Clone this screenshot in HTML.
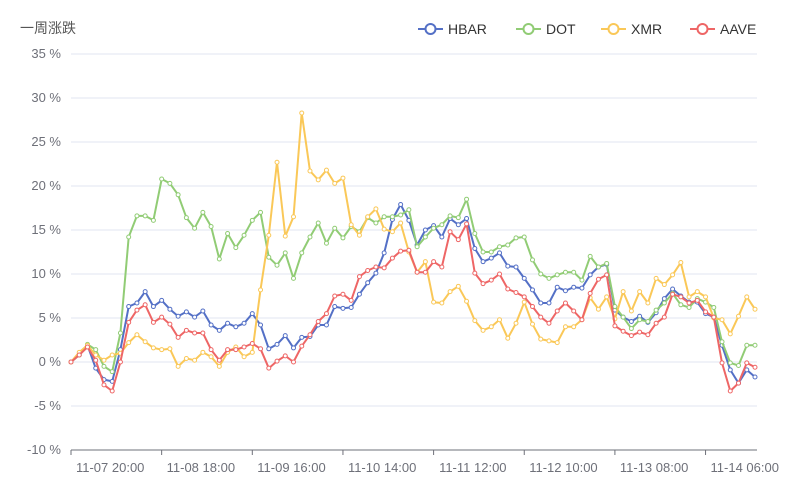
<!DOCTYPE html>
<html><head><meta charset="utf-8"><style>
html,body{margin:0;padding:0;background:#fff;}
svg{display:block;font-family:"Liberation Sans","Noto Sans CJK SC",sans-serif;}
</style></head><body>
<svg id="chart" width="800" height="500">
<text x="20" y="33" font-size="14" fill="#555">一周涨跌</text>
<g id="grid"></g>
<g id="xaxis"></g>
<g id="series"></g>
<g id="legend"></g>
</svg>
<script>
const timeLabels = ["11-07 20:00","11-08 18:00","11-09 16:00","11-10 14:00","11-11 12:00","11-12 10:00","11-13 08:00","11-14 06:00"];
const yTicks = [-10,-5,0,5,10,15,20,25,30,35];
const seriesNames = ["HBAR","DOT","XMR","AAVE"];
const seriesColors = ["#5470c6","#91cc75","#fac858","#ee6666"];
const hbar = [0,0.8,1.9,-0.7,-2.0,-2.2,1.4,6.3,6.7,8.0,6.3,7.0,
6.0,5.2,5.7,5.1,5.8,4.2,3.6,4.4,4.0,4.4,5.5,4.2,
1.5,2.0,3.0,1.6,2.8,2.9,4.2,4.2,6.3,6.1,
6.2,7.7,9.0,10.1,12.4,16.2,17.9,16.1,13.3,15.0,15.5,
14.2,16.3,15.6,16.3,12.9,11.4,11.8,12.4,10.9,10.8,9.5,8.2,6.7,
6.7,8.5,8.1,8.5,8.4,9.9,10.8,11.1,5.9,5.1,4.6,
5.2,4.5,5.6,7.2,8.3,7.5,6.8,6.8,5.5,5.1,1.9,-0.9,-2.4,-0.9,-1.7];
const dot = [0,0.8,2.0,1.4,-0.5,-1.1,3.3,14.2,16.6,16.6,16.1,20.8,
20.3,19.0,16.4,15.2,17.0,15.4,11.7,14.6,13.0,14.4,16.1,17.0,
11.9,11.0,12.4,9.5,12.4,14.2,15.8,13.5,15.2,14.1,
15.4,14.8,16.4,15.8,16.5,16.5,16.7,17.3,13.1,14.2,15.2,
15.6,16.6,16.4,18.5,14.6,12.5,12.5,13.1,13.3,14.1,14.2,11.6,10.0,
9.5,9.9,10.2,10.2,9.3,12.0,10.8,11.2,6.3,5.1,3.8,
4.8,4.6,5.9,6.7,7.8,6.5,6.2,7.2,6.8,6.2,2.3,-0.1,-0.4,1.9,1.9];
const xmr = [0,1.1,1.9,0.8,0.2,0.8,1.0,2.2,3.1,2.3,1.6,1.4,
1.5,-0.5,0.4,0.2,1.1,0.6,-0.5,1.1,1.7,0.6,1.1,8.2,
14.4,22.7,14.3,16.5,28.3,21.7,20.7,21.8,20.3,20.9,
15.6,14.4,16.5,17.4,15.1,14.8,15.8,12.5,10.2,11.4,6.8,
6.7,8.0,8.6,6.9,4.7,3.6,4.0,4.8,2.7,4.4,6.8,4.3,2.6,
2.4,2.2,4.0,4.0,4.8,7.3,6.0,7.4,4.9,8.0,5.8,
8.0,6.7,9.5,8.8,9.9,11.3,7.4,8.0,7.4,5.0,4.8,3.2,5.2,7.4,6.0];
const aave = [0,0.8,1.7,0.2,-2.6,-3.3,0,4.5,5.9,6.5,4.5,5.1,
4.3,2.8,3.6,3.3,3.3,1.4,0.2,1.4,1.4,1.7,2.1,1.5,
-0.7,0.1,0.7,0,1.8,3.1,4.6,5.5,7.5,7.7,
7.0,9.7,10.4,10.8,10.7,11.8,12.6,12.7,10.2,10.2,11.4,
10.8,14.8,13.9,15.7,10.1,8.9,9.3,10.0,8.3,7.9,7.4,6.3,5.1,
4.4,5.8,6.7,5.8,4.8,7.8,9.4,9.9,4.1,3.5,3.0,
3.4,3.1,4.4,5.1,7.7,7.4,6.7,7.0,5.7,5.1,-0.1,-3.3,-2.4,-0.1,-0.6];
const allSeries = [hbar,dot,xmr,aave];
const labelStart = 5, labelStep = 11;

const NS="http://www.w3.org/2000/svg";
const X0=71,X1=755,YTOP=54,YBOT=450,YMIN=-10,YMAX=35;
const n=hbar.length;
function xPos(i){return X0+(X1-X0)*i/(n-1);}
function yPos(v){return YBOT-(v-YMIN)/(YMAX-YMIN)*(YBOT-YTOP);}
function mk(tag,attrs,parent){const e=document.createElementNS(NS,tag);for(const k in attrs)e.setAttribute(k,attrs[k]);parent.appendChild(e);return e;}

const grid=document.getElementById('grid');
yTicks.forEach(t=>{
  const y=yPos(t);
  if(t!==YMIN){const l=mk('line',{x1:X0,x2:X1+2,y1:y,y2:y,stroke:'#e0e6f1','stroke-width':1},grid);
  
  }
  const tx=mk('text',{x:61,y:y+4,'text-anchor':'end','font-size':13,fill:'#6e7079'},grid);
  tx.textContent=t+' %';
  
  
});
const xa=document.getElementById('xaxis');
const axl=mk('line',{x1:X0,x2:X1+2,y1:YBOT,y2:YBOT,stroke:'#6e7079','stroke-width':1},xa);


for(let i=0;i<n;i+=labelStep){
  const t=mk('line',{x1:xPos(i),x2:xPos(i),y1:YBOT,y2:YBOT+5,stroke:'#6e7079'},xa);
  
  
}
timeLabels.forEach((lab,k)=>{
  const i=labelStart+k*labelStep;
  const tx=mk('text',{x:xPos(i)-2,y:472,'text-anchor':'middle','font-size':13,fill:'#6e7079'},xa);
  tx.textContent=lab;
  
  
});

const sg=document.getElementById('series');
allSeries.forEach((data,s)=>{
  const g=mk('g',{},sg);
  
  
  const pts=data.map((v,i)=>xPos(i).toFixed(1)+','+yPos(v).toFixed(1)).join(' ');
  const pl=mk('polyline',{points:pts,fill:'none',stroke:seriesColors[s],'stroke-width':2,'stroke-linejoin':'round'},g);
  
  
  data.forEach((v,i)=>{
    const c=mk('circle',{cx:xPos(i),cy:yPos(v),r:2,fill:'#fff',stroke:seriesColors[s],'stroke-width':1},g);
    
    
  });
});

const lg=document.getElementById('legend');
const legX=[418,516,601,690];
seriesNames.forEach((nm,s)=>{
  const g=mk('g',{},lg);
  
  
  const x=legX[s];
  mk('line',{x1:x,x2:x+25,y1:29,y2:29,stroke:seriesColors[s],'stroke-width':2},g);
  mk('circle',{cx:x+12.5,cy:29,r:5,fill:'#fff',stroke:seriesColors[s],'stroke-width':2},g);
  const t=mk('text',{x:x+30,y:34,'font-size':14,fill:'#333'},g);
  t.textContent=nm;
});
</script>
</body></html>
